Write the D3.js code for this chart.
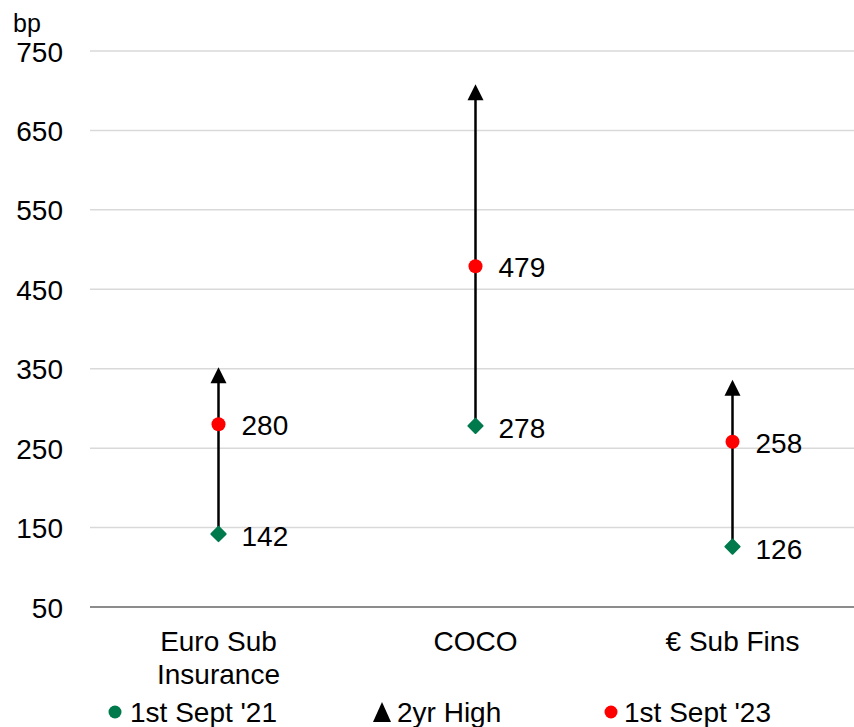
<!DOCTYPE html>
<html>
<head>
<meta charset="utf-8">
<script src="https://cdn.jsdelivr.net/npm/d3@7"></script>
<style>
  body { margin: 0; background: #fff; }
  text { font-family: "Liberation Sans", Arial, sans-serif; fill: #000; }
</style>
</head>
<body>
<script>
// data
let categories = [["Euro Sub", "Insurance"], ["COCO"], ["€ Sub Fins"]]
let sept21 = [142, 278, 126]
let high2yr = [352, 708, 336]
let sept23 = [280, 479, 258]
let yTicks = [50, 150, 250, 350, 450, 550, 650, 750]

let width = 854
let height = 727
let fontSize = 28

let svg = d3.select("body")
            .append("svg")
            .attr("width", width)
            .attr("height", height)

let xScale = d3.scaleBand()
               .domain(d3.range(categories.length))
               .range([90, 861])

let yScale = d3.scaleLinear()
               .domain([50, 750])
               .range([607, 51])

let cx = (i) => xScale(i) + xScale.bandwidth() / 2

// gridlines
svg.append("g")
   .selectAll("line")
   .data(yTicks.slice(1))
   .enter()
   .append("line")
   .attr("x1", 90)
   .attr("x2", width)
   .attr("y1", d => yScale(d))
   .attr("y2", d => yScale(d))
   .attr("stroke", "#d9d9d9")
   .attr("stroke-width", 1.5)

// y axis (labels only)
let yAxis = d3.axisLeft(yScale)
              .tickValues(yTicks)
              .tickSize(0)
              .tickPadding(0)

svg.append("g")
   .attr("transform", "translate(63,0)")
   .call(yAxis)
   .call(g => g.select(".domain").remove())
   .selectAll("text")
   .attr("font-size", fontSize)
   .attr("dy", "0.36em")
   .attr("font-family", "Liberation Sans, Arial, sans-serif")

// baseline axis
svg.append("line")
   .attr("x1", 90)
   .attr("x2", width)
   .attr("y1", yScale(50))
   .attr("y2", yScale(50))
   .attr("stroke", "#8c8c8c")
   .attr("stroke-width", 2)

svg.append("text")
   .attr("x", 13)
   .attr("y", 32)
   .attr("font-size", 25)
   .text("bp")

// category labels
let cat = svg.append("g")
   .selectAll("text")
   .data(categories)
   .enter()
   .append("text")
   .attr("x", (d, i) => cx(i))
   .attr("y", 651)
   .attr("text-anchor", "middle")
   .attr("font-size", fontSize)

cat.selectAll("tspan")
   .data(d => d)
   .enter()
   .append("tspan")
   .attr("x", function () { return d3.select(this.parentNode).attr("x") })
   .attr("dy", (d, j) => j === 0 ? 0 : 33)
   .text(d => d)

// high-low lines
svg.append("g")
   .selectAll("line")
   .data(categories)
   .enter()
   .append("line")
   .attr("x1", (d, i) => cx(i))
   .attr("x2", (d, i) => cx(i))
   .attr("y1", (d, i) => yScale(sept21[i]))
   .attr("y2", (d, i) => yScale(high2yr[i]) + 12)
   .attr("stroke", "#000")
   .attr("stroke-width", 2.5)

// arrow heads at the 2yr high
let tri = (x, y) => `M${x},${y} L${x - 8},${y + 16} L${x + 8},${y + 16} Z`

svg.append("g")
   .selectAll("path")
   .data(high2yr)
   .enter()
   .append("path")
   .attr("d", (d, i) => tri(cx(i), yScale(d)))
   .attr("fill", "#000")

// 1st Sept '21 diamonds
svg.append("g")
   .selectAll("path")
   .data(sept21)
   .enter()
   .append("path")
   .attr("d", d3.symbol().type(d3.symbolDiamond2).size(130))
   .attr("transform", (d, i) => `translate(${cx(i)},${yScale(d)})`)
   .attr("fill", "#007a4d")
   .attr("stroke", "#007a4d")
   .attr("stroke-width", 2)
   .attr("stroke-linejoin", "round")

// 1st Sept '23 circles
svg.append("g")
   .selectAll("circle")
   .data(sept23)
   .enter()
   .append("circle")
   .attr("cx", (d, i) => cx(i))
   .attr("cy", d => yScale(d))
   .attr("r", 7)
   .attr("fill", "#ff0000")

// data labels
let labels = (vals, dy) => {
    svg.append("g")
       .selectAll("text")
       .data(vals)
       .enter()
       .append("text")
       .attr("x", (d, i) => cx(i) + 23)
       .attr("y", d => yScale(d) + dy)
       .attr("dy", "0.36em")
       .attr("font-size", fontSize)
       .text(d => d)
}
labels(sept23, 1)
labels(sept21, 2)

// legend
let legend = svg.append("g").attr("transform", "translate(0,712)")

legend.append("circle").attr("cx", 115).attr("cy", 0).attr("r", 6.5).attr("fill", "#007a4d")
legend.append("text").attr("x", 130).attr("y", 0).attr("dy", "0.36em").attr("font-size", fontSize).text("1st Sept '21")

legend.append("path").attr("d", `M382,-10 L373,10 L391,10 Z`).attr("fill", "#000")
legend.append("text").attr("x", 397).attr("y", 0).attr("dy", "0.36em").attr("font-size", fontSize).text("2yr High")

legend.append("circle").attr("cx", 611).attr("cy", 0).attr("r", 6.5).attr("fill", "#ff0000")
legend.append("text").attr("x", 624).attr("y", 0).attr("dy", "0.36em").attr("font-size", fontSize).text("1st Sept '23")
</script>
</body>
</html>
